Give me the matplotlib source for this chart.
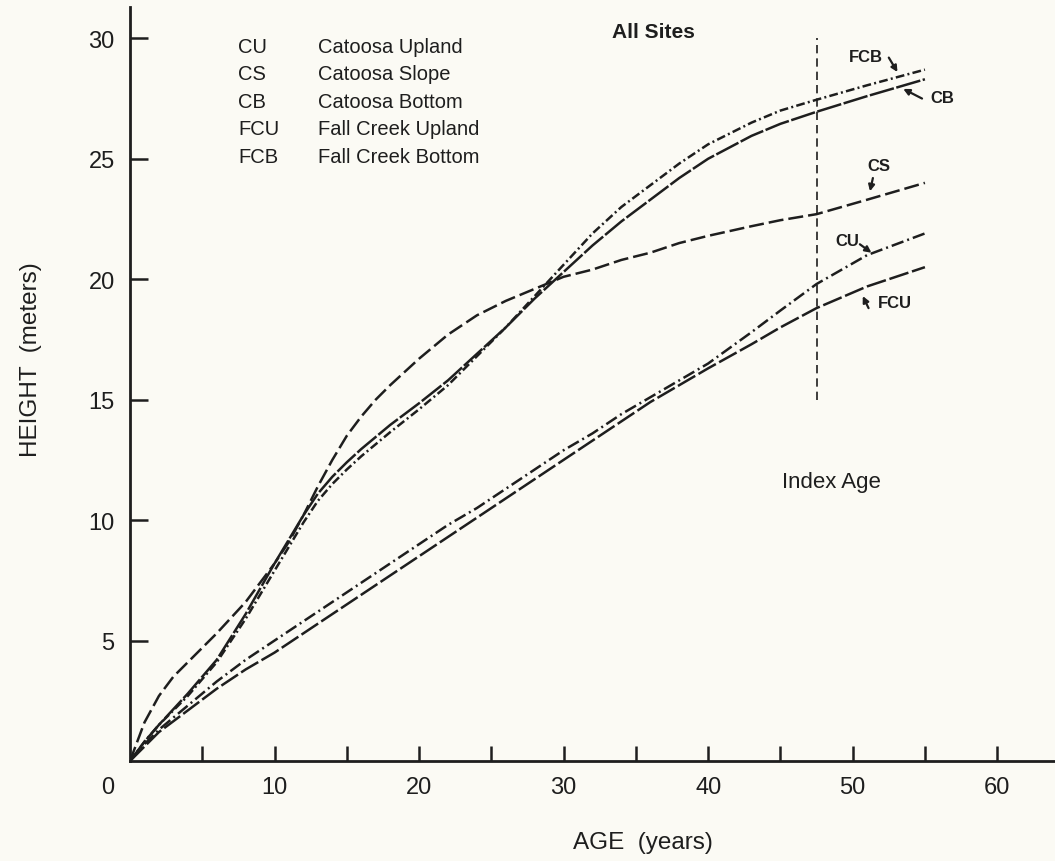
import matplotlib.pyplot as plt

# (age in years, height in meters)
age = [0, 1, 2, 3, 4, 6, 8, 10, 11, 12, 13, 14, 15, 16, 17, 18, 20, 22, 24,
       26, 28, 30, 32, 34, 36, 38, 40, 43, 45, 47.5, 51, 55]
h_cu = [0, 0.7, 1.3, 1.8, 2.3, 3.3, 4.2, 5.0, 5.4, 5.8, 6.2, 6.6, 7.0, 7.4,
        7.8, 8.2, 9.0, 9.8, 10.5, 11.3, 12.1, 12.9, 13.6, 14.4, 15.1, 15.8,
        16.5, 17.8, 18.7, 19.8, 21.0, 21.9]
h_cs = [0, 1.6, 2.7, 3.5, 4.1, 5.3, 6.6, 8.2, 9.1, 10.2, 11.4, 12.5, 13.5,
        14.3, 15.0, 15.6, 16.7, 17.7, 18.5, 19.1, 19.6, 20.1, 20.4, 20.8, 21.1,
        21.5, 21.8, 22.2, 22.45, 22.7, 23.3, 24.0]
h_cb = [0, 0.8, 1.5, 2.15, 2.8, 4.2, 6.1, 8.2, 9.2, 10.2, 11.1, 11.8, 12.4,
        12.95, 13.45, 13.95, 14.85, 15.8, 16.9, 18.0, 19.2, 20.3, 21.4, 22.4,
        23.3, 24.2, 25.0, 25.95, 26.45, 26.95, 27.6, 28.3]
h_fcu = [0, 0.6, 1.2, 1.65, 2.1, 3.0, 3.8, 4.5, 4.9, 5.3, 5.7, 6.1, 6.5, 6.9,
         7.3, 7.7, 8.5, 9.3, 10.1, 10.9, 11.7, 12.5, 13.3, 14.1, 14.9, 15.6,
         16.3, 17.3, 18.0, 18.8, 19.7, 20.5]
h_fcb = [0, 0.8, 1.5, 2.1, 2.7, 4.1, 5.9, 7.9, 8.9, 9.9, 10.8, 11.5, 12.1,
         12.65, 13.15, 13.65, 14.6, 15.6, 16.8, 18.0, 19.3, 20.6, 21.9, 23.0,
         23.9, 24.8, 25.6, 26.5, 27.0, 27.45, 28.05, 28.7]

codes = ['CU', 'CS', 'CB', 'FCU', 'FCB']
names = ['Catoosa Upland', 'Catoosa Slope', 'Catoosa Bottom',
         'Fall Creek Upland', 'Fall Creek Bottom']

index_age = 47.5

ink = '#1e1e1e'
paper = '#fbfaf4'
plt.rcParams['font.family'] = ['Liberation Sans', 'DejaVu Sans']

fig = plt.figure(figsize=(10.55, 8.62), dpi=100, facecolor=paper)
ax = fig.add_axes([130 / 1055, 100 / 862, 925 / 1055, 754 / 862])
ax.set_facecolor(paper)

lw = 1.8
ax.plot(age, h_cu, color=ink, lw=lw, ls=(0, (5, 1.6, 0.8, 1.6)))
ax.plot(age, h_cs, color=ink, lw=lw, ls=(0, (6, 2)))
ax.plot(age, h_cb, color=ink, lw=lw, ls=(0, (10, 1)))
ax.plot(age, h_fcu, color=ink, lw=lw, ls=(0, (8, 1.5)))
ax.plot(age, h_fcb, color=ink, lw=lw, ls=(0, (3.5, 1.3, 0.8, 1.3)))

ax.plot([index_age, index_age], [15, 30], color=ink, lw=1.2, ls=(0, (5, 3)))

ax.set_xlim(0, 64)
ax.set_ylim(0, 31.3)
for s in ['top', 'right']:
    ax.spines[s].set_visible(False)
for s in ['left', 'bottom']:
    ax.spines[s].set_linewidth(2)
    ax.spines[s].set_color(ink)

xt = list(range(5, 65, 5))
ax.set_xticks(xt)
ax.set_xticklabels([str(v) if v % 10 == 0 else '' for v in xt])
ax.set_yticks(range(5, 31, 5))
ax.tick_params(axis='x', direction='in', length=11, width=1.8, pad=11,
               labelsize=17, colors=ink)
ax.tick_params(axis='y', direction='in', length=13, width=1.8, pad=11,
               labelsize=17, colors=ink)
ax.annotate('0', xy=(0, 0), xycoords='axes fraction', xytext=(-11, -19),
            textcoords='offset points', ha='right', va='center',
            fontsize=17, color=ink)

fig.text(643 / 1055, 1 - 843 / 862, 'AGE  (years)', ha='center', va='center',
         fontsize=17.5, color=ink)
fig.text(31 / 1055, 1 - 360 / 862, 'HEIGHT  (meters)', ha='center',
         va='center', rotation=90, fontsize=17.5, color=ink)

# key in the upper left
for i, (c, n) in enumerate(zip(codes, names)):
    y = 29.67 - i * 1.142
    ax.text(7.47, y, c, fontsize=14.5, color=ink, va='center')
    ax.text(13.0, y, n, fontsize=14.5, color=ink, va='center')

ax.text(36.2, 30.3, 'All Sites', fontsize=15, fontweight='bold', color=ink,
        ha='center', va='center')
ax.text(48.5, 11.6, 'Index Age', fontsize=16, color=ink, ha='center',
        va='center')

# curve labels with small arrows
tags = [('FCB', 50.9, 29.25, (52.5, 29.2), (53.1, 28.6)),
        ('CB', 56.2, 27.55, (54.8, 27.5), (53.5, 27.9)),
        ('CS', 51.8, 24.7, (51.4, 24.2), (51.2, 23.65)),
        ('CU', 49.6, 21.6, (50.5, 21.45), (51.3, 21.1)),
        ('FCU', 52.9, 19.05, (51.1, 18.8), (50.7, 19.3))]
for t, tx, ty, tail, head in tags:
    ax.text(tx, ty, t, fontweight='bold', fontsize=12,
            color=ink, ha='center', va='center')
    ax.annotate('', xy=head, xytext=tail,
                arrowprops=dict(arrowstyle='-|>', color=ink, lw=1.6,
                                mutation_scale=9, shrinkA=0, shrinkB=0))

fig.savefig('out.png', dpi=100, facecolor=paper)
